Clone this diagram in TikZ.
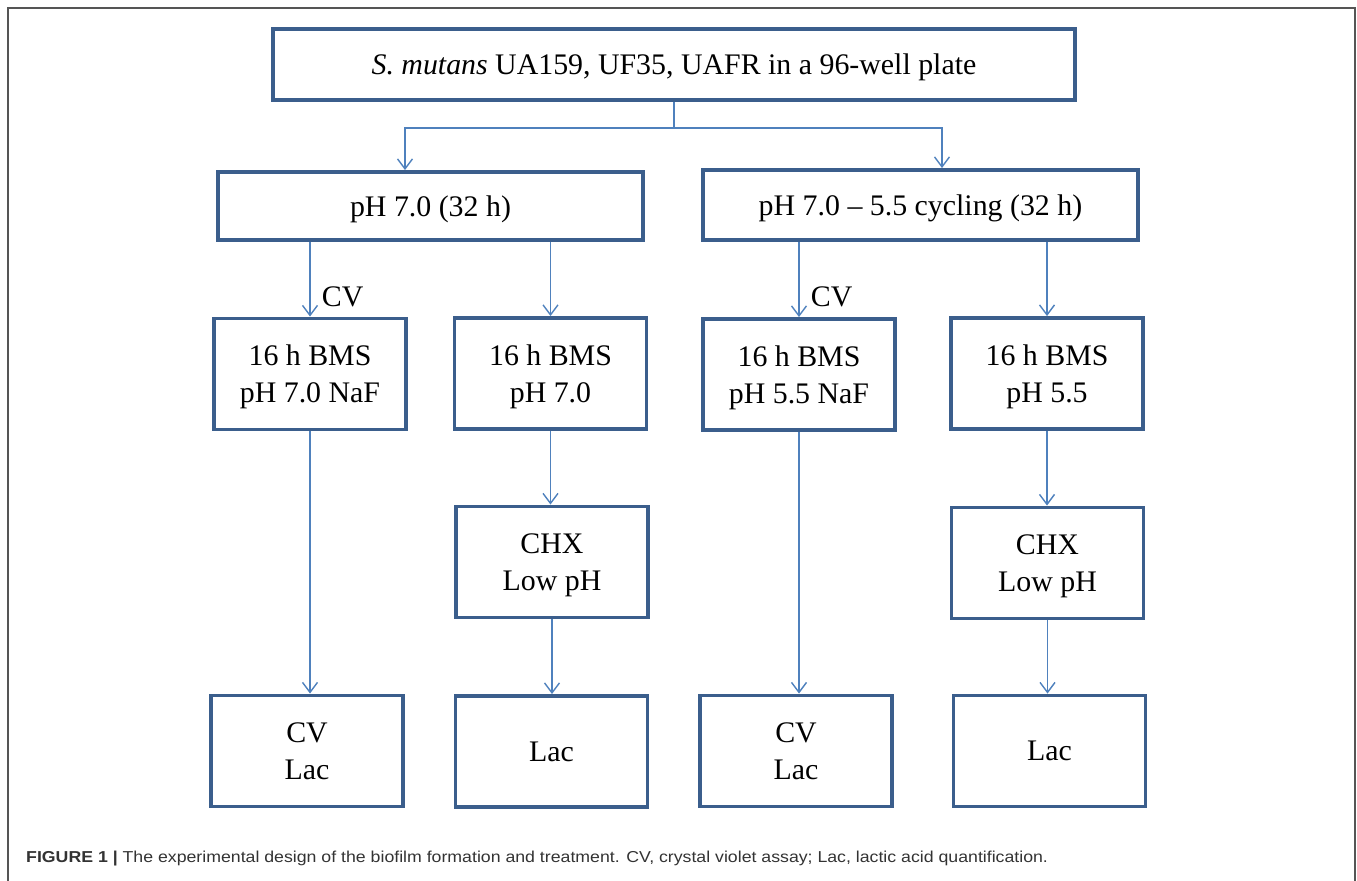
\documentclass[tikz,border=0pt]{standalone}
\usepackage{fontspec}
\setmainfont{Liberation Serif}
\newfontfamily\capfont[FakeStretch=1.12]{Liberation Sans}
\usetikzlibrary{arrows.meta, calc}
\definecolor{boxblue}{HTML}{3B5E8C}
\definecolor{arrblue}{HTML}{4F81BD}
\definecolor{framegray}{HTML}{555555}

\begin{document}
\begin{tikzpicture}[x=0.02cm, y=-0.02cm,
    every node/.style={font=\fontsize{17}{21}\selectfont},
    box/.style={draw=boxblue, line width=2.2pt, align=center, fill=white, text depth=0pt},
    small/.style={box, minimum width=3.84cm, minimum height=2.22cm},
    arr/.style={arrblue, line width=0.8pt, -{Straight Barb[length=0.2cm, width=0.3cm]}}]
    \useasboundingbox (0,0) rectangle (1357,881);
    \clip (0,0) rectangle (1357,881);
    \draw[framegray, line width=1pt] (8,8) rectangle (1355,900);

    % top and the two conditions
    \node[box, minimum width=16.04cm, minimum height=1.42cm] (plate) at (674,64.5)
        {\textit{S. mutans} UA159, UF35, UAFR in a 96-well plate};
    \node[box, minimum width=8.5cm, minimum height=1.36cm] (neutral) at (430.5,206) {pH 7.0 (32 h)};
    \node[box, minimum width=8.7cm, minimum height=1.4cm] (cycling) at (920.5,205)
        {pH 7.0 -- 5.5 cycling (32 h)};
    \coordinate (split) at (674,128);
    \draw[arr] (plate.south) -- (split) -| ($(neutral.north)+(-25.5,0)$);
    \draw[arr] (split) -| ($(cycling.north)+(21.5,0)$);

    % BMS treatment
    \node[small] (bmsA) at (310,374) {16 h BMS\\pH 7.0 NaF};
    \node[small] (bmsB) at (550.5,373.5) {16 h BMS\\pH 7.0};
    \node[small] (bmsC) at (799,374.5) {16 h BMS\\pH 5.5 NaF};
    \node[small] (bmsD) at (1047,373.5) {16 h BMS\\pH 5.5};
    \draw[arr] (neutral.south -| bmsA.north) -- (bmsA.north) node[pos=0.73, right=3pt, text=black] {CV};
    \draw[arr] (neutral.south -| bmsB.north) -- (bmsB.north);
    \draw[arr] (cycling.south -| bmsC.north) -- (bmsC.north) node[pos=0.73, right=3pt, text=black] {CV};
    \draw[arr] (cycling.south -| bmsD.north) -- (bmsD.north);

    % CHX
    \node[small] (chxB) at (552,562) {CHX\\Low pH};
    \node[small] (chxD) at (1047.5,563) {CHX\\Low pH};
    \draw[arr] (bmsB.south) -- (bmsB.south |- chxB.north);
    \draw[arr] (bmsD.south) -- (bmsD.south |- chxD.north);

    % assays
    \node[small] (endA) at (307,751) {CV\\Lac};
    \node[small] (endB) at (551.5,751.5) {Lac};
    \node[small] (endC) at (796,751) {CV\\Lac};
    \node[small] (endD) at (1049.5,751) {Lac};
    \draw[arr] (bmsA.south) -- (bmsA.south |- endA.north);
    \draw[arr] (chxB.south) -- (chxB.south |- endB.north);
    \draw[arr] (bmsC.south) -- (bmsC.south |- endC.north);
    \draw[arr] (chxD.south) -- (chxD.south |- endD.north);

    \node[anchor=west, text=black!80, font=\capfont\fontsize{9}{11}\selectfont] (caption) at (20,859)
        {\textbf{FIGURE 1 |} The experimental design of the biofilm formation and treatment. CV, crystal violet assay; Lac, lactic acid quantification.};
\end{tikzpicture}
\end{document}
